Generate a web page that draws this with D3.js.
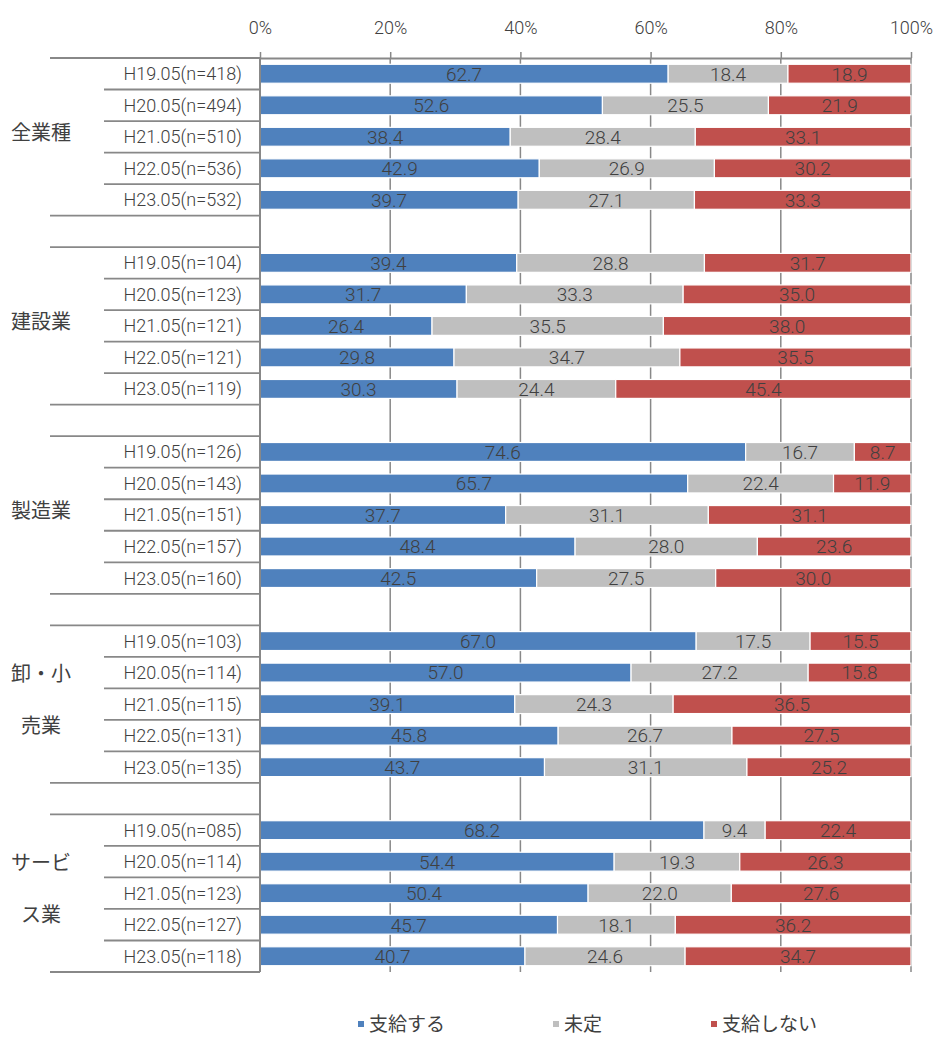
<!DOCTYPE html>
<html>
<head>
<meta charset="utf-8">
<script src="https://d3js.org/d3.v7.min.js"></script>
<style>
  body { margin: 0; background: #fff; }
  text { font-family: Roboto, "Noto Sans CJK JP", sans-serif; fill: #404040; }
</style>
</head>
<body>
<div id="chart"></div>
<script>
// industry groups (label lines as shown on the chart)
const groups = [["全業種"], ["建設業"], ["製造業"], ["卸・小", "売業"], ["サービ", "ス業"]];
const periods = ["H19.05", "H20.05", "H21.05", "H22.05", "H23.05"];
const counts = [
  ["418", "494", "510", "536", "532"],
  ["104", "123", "121", "121", "119"],
  ["126", "143", "151", "157", "160"],
  ["103", "114", "115", "131", "135"],
  ["085", "114", "123", "127", "118"]
];
const series = ["支給する", "未定", "支給しない"];
const shiKyu = [
  [62.7, 52.6, 38.4, 42.9, 39.7],
  [39.4, 31.7, 26.4, 29.8, 30.3],
  [74.6, 65.7, 37.7, 48.4, 42.5],
  [67.0, 57.0, 39.1, 45.8, 43.7],
  [68.2, 54.4, 50.4, 45.7, 40.7]
];
const mitei = [
  [18.4, 25.5, 28.4, 26.9, 27.1],
  [28.8, 33.3, 35.5, 34.7, 24.4],
  [16.7, 22.4, 31.1, 28.0, 27.5],
  [17.5, 27.2, 24.3, 26.7, 31.1],
  [9.4, 19.3, 22.0, 18.1, 24.6]
];
const shinai = [
  [18.9, 21.9, 33.1, 30.2, 33.3],
  [31.7, 35.0, 38.0, 35.5, 45.4],
  [8.7, 11.9, 31.1, 23.6, 30.0],
  [15.5, 15.8, 36.5, 27.5, 25.2],
  [22.4, 26.3, 27.6, 36.2, 34.7]
];
const xTicks = [0, 0.2, 0.4, 0.6, 0.8, 1.0];
const colors = ["#4F81BD", "#BFBFBF", "#C0504D"];

// build rows: 5 per group, one blank row between groups
const rows = [];
groups.forEach((g, gi) => {
  if (gi > 0) rows.push({ key: "blank" + gi, blank: true });
  periods.forEach((p, pi) => {
    rows.push({
      key: `g${gi}-${pi}`, gi, pi,
      label: `${p}(n=${counts[gi][pi]})`,
      values: [shiKyu[gi][pi], mitei[gi][pi], shinai[gi][pi]]
    });
  });
});

const width = 936, height = 1037;
const margin = { top: 58, right: 25, bottom: 65, left: 260 };
const innerW = width - margin.left - margin.right;
const innerH = height - margin.top - margin.bottom;

const svg = d3.select("#chart").append("svg")
  .attr("width", width).attr("height", height);
const g = svg.append("g").attr("transform", `translate(${margin.left},${margin.top})`);

const x = d3.scaleLinear().domain([0, 1]).range([0, innerW]);
const y = d3.scaleBand().domain(rows.map(d => d.key)).range([0, innerH]).paddingInner(0.4).paddingOuter(0.2);

// gridlines
g.append("g").selectAll("line").data(xTicks.slice(1)).join("line")
  .attr("x1", d => x(d)).attr("x2", d => x(d))
  .attr("y1", 0).attr("y2", innerH)
  .attr("stroke", "#888").attr("stroke-width", 1.5);

// top axis
const xAxis = g.append("g")
  .call(d3.axisTop(x).tickValues(xTicks).tickFormat(d3.format(".0%")).tickSize(6).tickSizeOuter(0).tickPadding(18));
xAxis.select(".domain").attr("stroke", "#888").attr("stroke-width", 2);
xAxis.selectAll(".tick line").attr("stroke", "#888").attr("stroke-width", 1.5);
xAxis.selectAll(".tick text").attr("font-size", 18).attr("fill", "#404040")
  .attr("font-family", "Roboto, sans-serif").attr("font-weight", 300);

// stacked bars
const dataRows = rows.filter(d => !d.blank);
const stacked = dataRows.map(r => {
  const total = d3.sum(r.values);
  let acc = 0;
  return r.values.map((v, i) => {
    const s = { row: r, i, v, x0: acc / total, x1: (acc + v) / total };
    acc += v;
    return s;
  });
}).flat();

g.append("g").selectAll("rect").data(stacked).join("rect")
  .attr("x", d => x(d.x0))
  .attr("y", d => y(d.row.key))
  .attr("width", d => x(d.x1) - x(d.x0))
  .attr("height", y.bandwidth())
  .attr("fill", d => colors[d.i])
  .attr("stroke", "#fff").attr("stroke-width", 1.2);

g.append("g").selectAll("text").data(stacked).join("text")
  .attr("x", d => (x(d.x0) + x(d.x1)) / 2)
  .attr("y", d => y(d.row.key) + y.bandwidth() / 2)
  .attr("dy", "0.36em")
  .attr("text-anchor", "middle")
  .attr("font-size", 19)
  .attr("font-weight", 300)
  .attr("fill", "#262626")
  .text(d => d.v.toFixed(1));

// left category axis (Excel style multi-level)
const step = y.step();
const axis = g.append("g");
axis.append("line")
  .attr("x1", 0).attr("x2", 0).attr("y1", 0).attr("y2", innerH)
  .attr("stroke", "#888").attr("stroke-width", 2);
rows.forEach((r, i) => {
  const top = i * step, bottom = (i + 1) * step;
  if (r.blank) return;
  // line above each row
  const firstInGroup = r.pi === 0;
  axis.append("line")
    .attr("x1", firstInGroup ? -210 : -156).attr("x2", 0)
    .attr("y1", top).attr("y2", top)
    .attr("stroke", "#888").attr("stroke-width", 1.8);
  if (r.pi === periods.length - 1) {
    axis.append("line")
      .attr("x1", -210).attr("x2", 0)
      .attr("y1", bottom).attr("y2", bottom)
      .attr("stroke", "#888").attr("stroke-width", 1.8);
  }
  axis.append("text")
    .attr("x", -18)
    .attr("y", y(r.key) + y.bandwidth() / 2)
    .attr("dy", "0.36em")
    .attr("text-anchor", "end")
    .attr("font-size", 18)
    .attr("font-weight", 300)
    .attr("fill", "#262626")
    .text(r.label);
});

// group labels
groups.forEach((lines, gi) => {
  const first = rows.findIndex(r => r.gi === gi && r.pi === 0);
  const mid = (first + periods.length / 2) * step - 4;
  const lh = 52;
  lines.forEach((t, li) => {
    axis.append("text")
      .attr("x", -219)
      .attr("y", mid + (li - (lines.length - 1) / 2) * lh)
      .attr("dy", "0.36em")
      .attr("text-anchor", "middle")
      .attr("font-size", 20)
      .attr("fill", "#262626")
      .text(t);
  });
});

// legend
const legendX = [358, 553, 711];
const legend = svg.append("g").attr("transform", `translate(0, 1024)`);
series.forEach((s, i) => {
  legend.append("rect")
    .attr("x", legendX[i]).attr("y", -3)
    .attr("width", 6).attr("height", 6)
    .attr("fill", colors[i]);
  legend.append("text")
    .attr("x", legendX[i] + 11).attr("y", 0)
    .attr("dy", "0.35em")
    .attr("font-size", 19)
    .attr("fill", "#262626")
    .text(s);
});
</script>
</body>
</html>
